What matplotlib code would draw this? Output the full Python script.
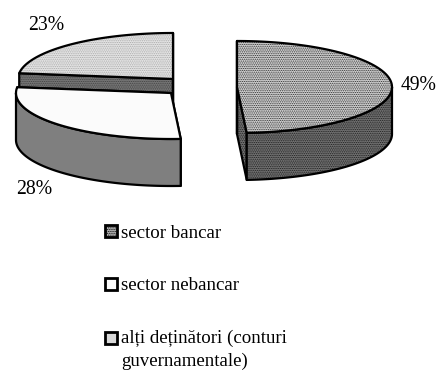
import numpy as np
import matplotlib
matplotlib.use("Agg")
import matplotlib.pyplot as plt
from matplotlib.patches import Polygon, Patch

# Data
labels = ["sector bancar", "sector nebancar", "alți deținători (conturi\nguvernamentale)"]
shares = [49, 28, 23]
pct_labels = ["49%", "28%", "23%"]

# Styles: (face, hatch colour, hatch)
top_style = [("#d6d6d6", "#2a2a2a", "........."), ("#fbfbfb", "#fbfbfb", None), ("#e6e6e6", "#a8a8a8", ".........")]
side_style = [("#747474", "#1c1c1c", "........."), ("#7f7f7f", "#7f7f7f", None), ("#787878", "#404040", ".........")]
key_style = [("#bdbdbd", "........."), ("#fbfbfb", None), ("#d8d8d8", None)]
apex = [(237, 87), (171, 93), (173, 79)]
label_pos = [(419, 85), (34, 190), (46, 25)]
RX, RY, DEPTH = 155, 46, 47
LW = 1.6

plt.rcParams["font.family"] = ["Liberation Serif", "DejaVu Serif"]
plt.rcParams["hatch.linewidth"] = 0.6
fig = plt.figure(figsize=(4.39, 3.72), dpi=100)
ax = fig.add_axes([0, 0, 1, 1])
ax.set_xlim(0, 439)
ax.set_ylim(372, 0)
ax.axis("off")


def arc(c, a0, a1, dy=0):
    t = np.radians(np.linspace(a0, a1, 120))
    return np.c_[c[0] + RX * np.cos(t), c[1] - RY * np.sin(t) + dy]


def poly(pts, style, z):
    fc, hc, hatch = style
    ax.add_patch(Polygon(pts, closed=True, facecolor=fc, edgecolor=hc, hatch=hatch, lw=0, zorder=z))
    ax.add_patch(Polygon(pts, closed=True, fill=False, edgecolor="black", lw=LW,
                         joinstyle="round", zorder=z + 0.01))


# clockwise from 12 o'clock; slices drawn back to front
starts = 90 - 3.6 * np.r_[0, np.cumsum(shares)[:-1]]
ends = 90 - 3.6 * np.cumsum(shares)
for order, i in enumerate((2, 0, 1)):
    c, a0, a1 = apex[i], starts[i], ends[i]
    z = 2 + order
    for a in (a0, a1):
        p = arc(c, a, a, 0)[0]
        poly([c, p, (p[0], p[1] + DEPTH), (c[0], c[1] + DEPTH)], side_style[i], z)
    r0, r1 = max(a1, -180), min(a0, 0)
    if r0 < r1:
        poly(np.r_[arc(c, r1, r0), arc(c, r0, r1, DEPTH)], side_style[i], z + 0.1)
    poly(np.r_[[c], arc(c, a0, a1)], top_style[i], z + 0.5)
    ax.text(*label_pos[i], pct_labels[i], fontsize=14.2, ha="center", va="center", zorder=9)

handles = [Patch(facecolor=key_style[i][0], edgecolor="black", hatch=key_style[i][1], lw=2.0) for i in range(3)]
leg = ax.legend(handles, labels, loc="upper left", bbox_to_anchor=(105 / 439, 1 - 225 / 372),
                frameon=False, fontsize=13.6, handlelength=0.62, handleheight=0.62,
                handletextpad=0.25, labelspacing=1.87, borderpad=0, borderaxespad=0,
                alignment="left")
for t in leg.get_texts():
    t.set_linespacing(1.44)
# key of the two-line entry sits beside its first line
leg.legend_handles[2].set_y(leg.legend_handles[2].get_y() + 8.6)
fig.savefig("out.png", dpi=100, facecolor="white")
